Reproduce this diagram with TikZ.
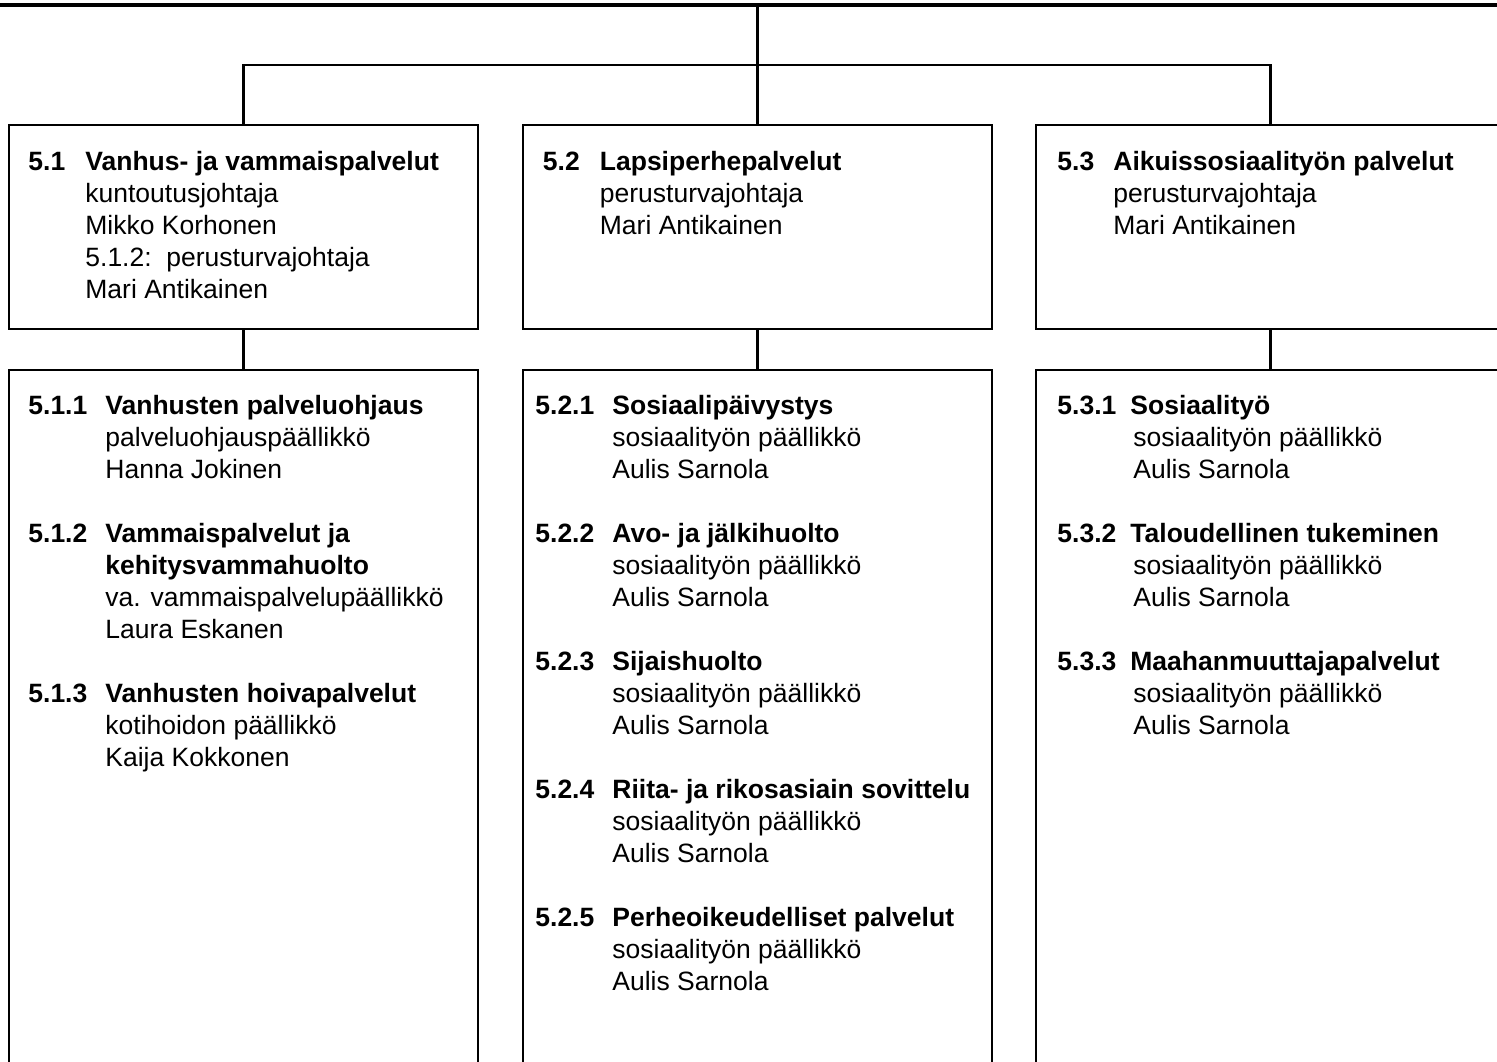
\documentclass[tikz,border=0pt]{standalone}
\usepackage{fontspec}
\setmainfont{Liberation Sans}
\newcommand\orgfont{\fontsize{13.25}{16}\selectfont}
\begin{document}
\begin{tikzpicture}[x=0.5pt,y=-0.5pt,
  box/.style={draw,line width=1.2pt,rectangle,anchor=north west,inner sep=0pt,outer sep=0pt,minimum width=234.5pt},
  topbox/.style={box,minimum height=102pt},
  subbox/.style={box,minimum height=360pt},
  txt/.style={anchor=base west,inner sep=0pt,font=\orgfont,align=left},
  conn/.style={line width=1.2pt},
  thickline/.style={line width=1.6pt}]
\useasboundingbox (0,0) rectangle (1497,1061);
\clip (0,0) rectangle (1497,1061);
% level-1 boxes
\node[topbox] (b51) at (9,125) {};
\node[topbox] (b52) at (523,125) {};
\node[topbox] (b53) at (1036,125) {};
% level-2 boxes
\node[subbox] (c51) at (9,370) {};
\node[subbox] (c52) at (523,370) {};
\node[subbox] (c53) at (1036,370) {};
% connectors
\coordinate (tl) at (0,5);
\coordinate (tr) at (1497,5);
\coordinate (bus) at (757.5,65);
\draw[thickline] (tl) -- (tr);
\draw[thickline] (bus |- tl) -- (bus);
\draw[conn] (b51.north) |- (bus) -| (b53.north);
\draw[conn] (bus) -- (b52.north);
\draw[conn] (b51.south) -- (c51.north);
\draw[conn] (b52.south) -- (c52.north);
\draw[conn] (b53.south) -- (c53.north);
% level-1 texts
\node[txt] (t51) at (28,170) {\begin{tabular}[t]{@{}p{28.5pt}@{}l@{}}
\textbf{5.1} & \textbf{Vanhus- ja vammaispalvelut}\\
 & kuntoutusjohtaja\\
 & Mikko Korhonen\\
 & 5.1.2:\ \ perusturvajohtaja\\
 & Mari Antikainen
\end{tabular}};
\node[txt] (t52) at (542.5,170) {\begin{tabular}[t]{@{}p{28.5pt}@{}l@{}}
\textbf{5.2} & \textbf{Lapsiperhepalvelut}\\
 & perusturvajohtaja\\
 & Mari Antikainen
\end{tabular}};
\node[txt] (t53) at (1057,170) {\begin{tabular}[t]{@{}p{28pt}@{}l@{}}
\textbf{5.3} & \textbf{Aikuissosiaalityön palvelut}\\
 & perusturvajohtaja\\
 & Mari Antikainen
\end{tabular}};
% level-2 texts
\node[txt] (u51) at (28,414) {\begin{tabular}[t]{@{}p{38.5pt}@{}l@{}}
\textbf{5.1.1} & \textbf{Vanhusten palveluohjaus}\\
 & palveluohjauspäällikkö\\
 & Hanna Jokinen\\
 & \\
\textbf{5.1.2} & \textbf{Vammaispalvelut ja}\\
 & \textbf{kehitysvammahuolto}\\
 & va. vammaispalvelupäällikkö\\
 & Laura Eskanen\\
 & \\
\textbf{5.1.3} & \textbf{Vanhusten hoivapalvelut}\\
 & kotihoidon päällikkö\\
 & Kaija Kokkonen
\end{tabular}};
\node[txt] (u52) at (535,414) {\begin{tabular}[t]{@{}p{38.5pt}@{}l@{}}
\textbf{5.2.1} & \textbf{Sosiaalipäivystys}\\
 & sosiaalityön päällikkö\\
 & Aulis Sarnola\\
 & \\
\textbf{5.2.2} & \textbf{Avo- ja jälkihuolto}\\
 & sosiaalityön päällikkö\\
 & Aulis Sarnola\\
 & \\
\textbf{5.2.3} & \textbf{Sijaishuolto}\\
 & sosiaalityön päällikkö\\
 & Aulis Sarnola\\
 & \\
\textbf{5.2.4} & \textbf{Riita- ja rikosasiain sovittelu}\\
 & sosiaalityön päällikkö\\
 & Aulis Sarnola\\
 & \\
\textbf{5.2.5} & \textbf{Perheoikeudelliset palvelut}\\
 & sosiaalityön päällikkö\\
 & Aulis Sarnola
\end{tabular}};
\node[txt] (u53) at (1057,414) {\begin{tabular}[t]{@{}p{36.5pt}@{}l@{}}
\textbf{5.3.1} & \textbf{Sosiaalityö}\\
 & \hspace{1.5pt}sosiaalityön päällikkö\\
 & \hspace{1.5pt}Aulis Sarnola\\
 & \\
\textbf{5.3.2} & \textbf{Taloudellinen tukeminen}\\
 & \hspace{1.5pt}sosiaalityön päällikkö\\
 & \hspace{1.5pt}Aulis Sarnola\\
 & \\
\textbf{5.3.3} & \textbf{Maahanmuuttajapalvelut}\\
 & \hspace{1.5pt}sosiaalityön päällikkö\\
 & \hspace{1.5pt}Aulis Sarnola
\end{tabular}};
\end{tikzpicture}
\end{document}
